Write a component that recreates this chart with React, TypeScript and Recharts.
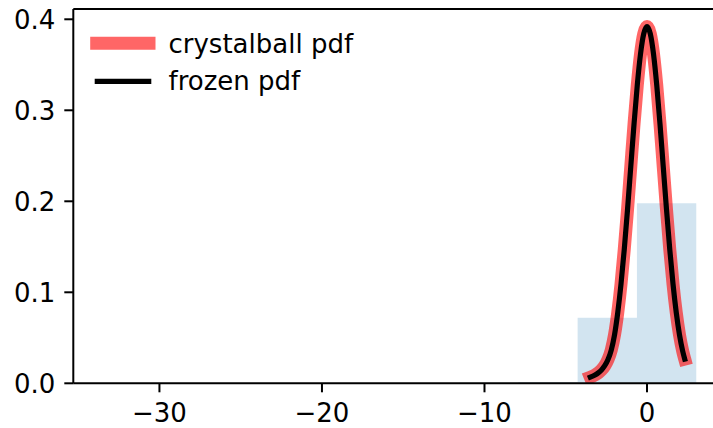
import React from "react";
import {
  Area,
  ComposedChart,
  Legend,
  Line,
  ReferenceLine,
  XAxis,
  YAxis,
} from "recharts";

// pdf curve, sampled between ppf(0.01) and ppf(0.99)
const pdfX = [
  -3.49, -3.2, -3.0, -2.8, -2.6, -2.4, -2.2, -2.0, -1.8, -1.6, -1.4, -1.2,
  -1.0, -0.8, -0.6, -0.4, -0.2, 0, 0.2, 0.4, 0.6, 0.8, 1.0, 1.2, 1.4, 1.6,
  1.8, 2.0, 2.2, 2.32,
];
const pdfY = [
  0.0067, 0.0091, 0.0115, 0.0147, 0.0193, 0.0261, 0.0365, 0.0531, 0.0776,
  0.109, 0.1471, 0.1908, 0.2378, 0.2846, 0.3274, 0.3619, 0.3842, 0.392,
  0.3842, 0.3619, 0.3274, 0.2846, 0.2378, 0.1908, 0.1471, 0.109, 0.0776,
  0.0531, 0.0349, 0.0266,
];

// histogram of the random sample (density)
const binEdges = [
  -33.47, -29.82, -26.17, -22.52, -18.87, -15.22, -11.57, -7.92, -4.27, -0.62,
  3.03,
];
const binDensity = [
  0.0003, 0, 0, 0, 0, 0.0003, 0.0005, 0.0014, 0.0721, 0.1978,
];

const xTicks = [-30, -20, -10, 0];
const yTicks = [0, 0.1, 0.2, 0.3, 0.4];

const pdfData = pdfX.map((x, i) => ({ x, y: pdfY[i] }));
const histData = binEdges.map((x, i) => ({
  x,
  h: binDensity[Math.min(i, binDensity.length - 1)],
}));

const FONT = "DejaVu Sans";
const minus = (v: number) => (v < 0 ? "\u2212" + Math.abs(v) : String(v));

function LegendBox() {
  return (
    <svg width={400} height={110} style={{ display: "block" }}>
      <line x1={96.7} x2={149} y1={43.3} y2={43.3} stroke="#ff0000" strokeOpacity={0.6} strokeWidth={13} strokeLinecap="square" />
      <text x={168.5} y={52.5} fontFamily={FONT} fontSize={26} fill="#000">crystalball pdf</text>
      <line x1={97.3} x2={148.7} y1={81.3} y2={81.3} stroke="#000" strokeWidth={5.2} strokeLinecap="square" />
      <text x={168.5} y={90} fontFamily={FONT} fontSize={26} fill="#000">frozen pdf</text>
    </svg>
  );
}

export default function App() {
  return (
    <div style={{ position: "absolute", left: 0, top: 0, width: 713, height: 428, overflow: "hidden", background: "#fff" }}>
      <ComposedChart width={740} height={428} margin={{ top: 9, right: 14, bottom: 0, left: 0 }}>
        <XAxis
          dataKey="x"
          type="number"
          domain={[-35.3, 4.86]}
          ticks={xTicks}
          tickFormatter={minus}
          allowDataOverflow
          height={44.7}
          stroke="#000"
          strokeWidth={2}
          tickSize={9}
          tickMargin={11}
          tick={{ fill: "#000", fontFamily: FONT, fontSize: 26 }}
        />
        <YAxis
          type="number"
          domain={[0, 0.4113]}
          ticks={yTicks}
          tickFormatter={(v: number) => v.toFixed(1)}
          allowDataOverflow
          width={73.3}
          stroke="#000"
          strokeWidth={2}
          tickSize={9}
          tickMargin={9}
          tick={{ fill: "#000", fontFamily: FONT, fontSize: 26 }}
        />
        <ReferenceLine y={0.4113} stroke="#000" strokeWidth={2} />
        <Area
          data={histData}
          dataKey="h"
          type="stepAfter"
          fill="#1f77b4"
          fillOpacity={0.2}
          stroke="none"
          isAnimationActive={false}
        />
        <Line
          data={pdfData}
          dataKey="y"
          type="monotone"
          stroke="#ff0000"
          strokeOpacity={0.6}
          strokeWidth={13}
          strokeLinecap="square"
          dot={false}
          isAnimationActive={false}
        />
        <Line
          data={pdfData}
          dataKey="y"
          type="monotone"
          stroke="#000"
          strokeWidth={5.2}
          strokeLinecap="square"
          dot={false}
          isAnimationActive={false}
        />
        <Legend
          layout="vertical"
          align="center"
          verticalAlign="middle"
          wrapperStyle={{ left: 0, top: 0, width: 400, height: 110 }}
          content={() => <LegendBox />}
        />
      </ComposedChart>
    </div>
  );
}
